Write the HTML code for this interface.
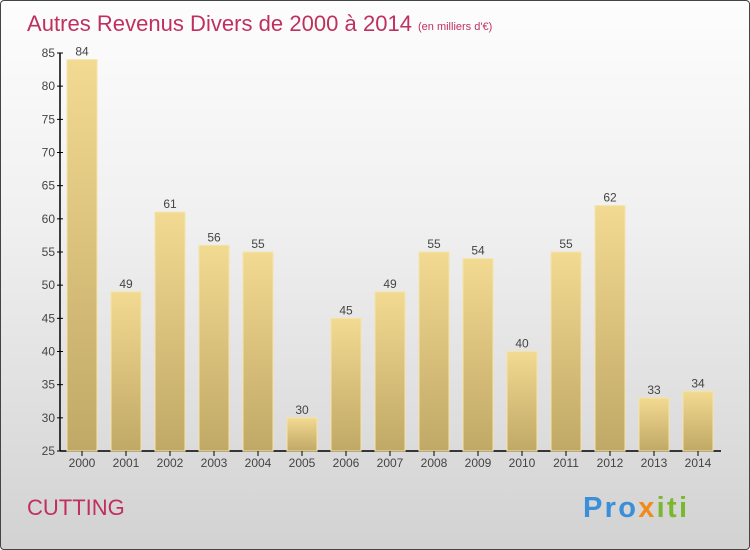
<!DOCTYPE html>
<html><head><meta charset="utf-8"><style>
body{margin:0}
#wrap{position:relative;width:748px;height:548px;border:1px solid #444;border-radius:4px;background:linear-gradient(#fdfdfd 0%,#f0f0f0 40%,#d2d2d2 100%);overflow:hidden;font-family:"Liberation Sans",sans-serif}
</style></head><body>
<div id="wrap">
<svg id="chart" width="748" height="548">
<defs><linearGradient id="bg" x1="0" y1="0" x2="0" y2="1"><stop offset="0" stop-color="#f2da92"/><stop offset="1" stop-color="#c0a866"/></linearGradient></defs>
<text x="26" y="30" font-size="22" fill="#c0305e" textLength="385">Autres Revenus Divers de 2000 à 2014</text>
<text x="417" y="29" font-size="11" fill="#c0305e">(en milliers d'€)</text>
<text x="26" y="514" font-size="22" fill="#c0305e">CUTTING</text>
<g font-size="29" font-weight="bold"><text x="582" y="516" textLength="104"><tspan fill="#3a8fd8">Pro</tspan><tspan fill="#f08a1a">x</tspan><tspan fill="#7ab830">iti</tspan></text></g>
<g id="plot"></g>
</svg>
</div>
<script>
const categories=["2000","2001","2002","2003","2004","2005","2006","2007","2008","2009","2010","2011","2012","2013","2014"];
const values=[84,49,61,56,55,30,45,49,55,54,40,55,62,33,34];
const ticks=[25,30,35,40,45,50,55,60,65,70,75,80,85];
const NS="http://www.w3.org/2000/svg";
const g=document.getElementById('plot');
const y=v=>450-(v-25)*398/60;
const x=i=>81+i*44;
function el(t,a,txt){const e=document.createElementNS(NS,t);for(const k in a)e.setAttribute(k,a[k]);if(txt!=null)e.textContent=txt;g.appendChild(e);return e;}
let a=el('line',{x1:59,y1:y(85),x2:59,y2:450,stroke:'#000','stroke-width':1.5});


a=el('line',{x1:59,y1:450,x2:720,y2:450,stroke:'#000','stroke-width':1.5});


ticks.forEach(t=>{
 el('line',{x1:56,y1:y(t),x2:62,y2:y(t),stroke:'#000'});
 const l=el('text',{x:54,y:y(t)+4,'font-size':12,fill:'#444','text-anchor':'end'},t);
 
 
});
categories.forEach((c,i)=>{
 const v=values[i];
 const r=el('rect',{x:x(i)-15,y:y(v),width:30,height:450-y(v),fill:'url(#bg)',stroke:'#f5e4a8','stroke-width':1});
 
 
 const vl=el('text',{x:x(i),y:y(v)-4,'font-size':12,fill:'#444','text-anchor':'middle'},v);
 
 
 el('line',{x1:x(i),y1:450,x2:x(i),y2:455,stroke:'#000'});
 const xl=el('text',{x:x(i),y:466,'font-size':12,fill:'#444','text-anchor':'middle'},c);
 
 
});
</script>
</body></html>
